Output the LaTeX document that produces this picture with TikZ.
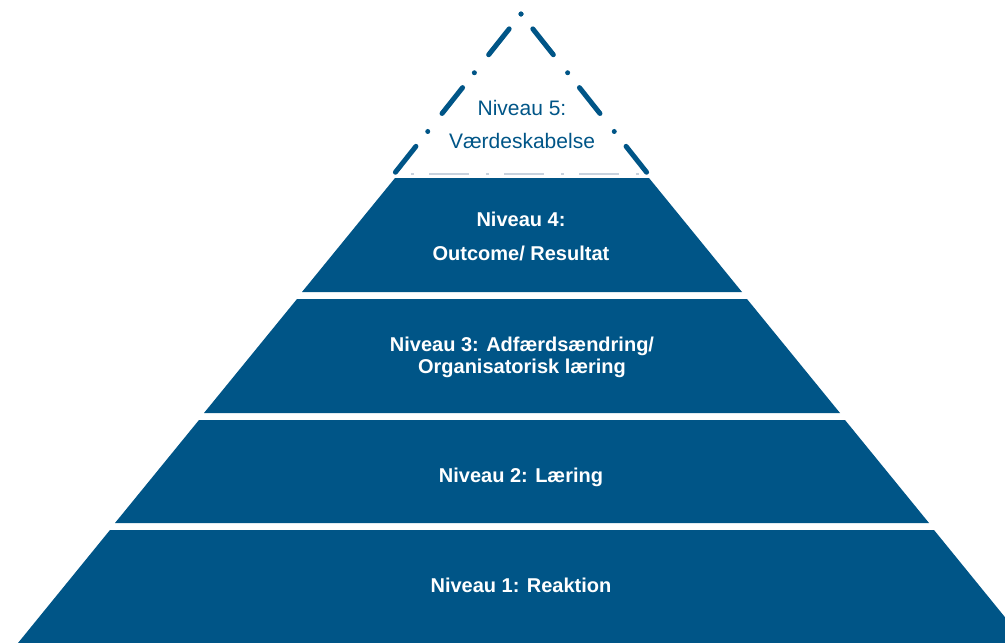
\documentclass[tikz,border=0pt]{standalone}
\usepackage{fontspec}
\setmainfont{Liberation Sans}
\definecolor{pyrblue}{RGB}{0,85,135}
\definecolor{pyrgrey}{RGB}{200,210,222}

\begin{document}
\begin{tikzpicture}[x=1pt, y=-1pt,
  tier/.style={fill=pyrblue},
  tierlabel/.style={text=white, font=\fontsize{20}{22}\selectfont\bfseries, align=center, inner sep=0pt},
  topedge/.style={draw=pyrblue, line width=5pt, line cap=round, dash pattern=on 0pt off 19pt on 33pt off 23pt},
  topbase/.style={draw=pyrgrey, line width=2pt, dash pattern=on 3pt off 15pt on 40pt off 17pt, dash phase=58pt}]
  \useasboundingbox (0,0) rectangle (1005,643);
  \clip (0,0) rectangle (1005,643);

  % top level, open
  \coordinate (apex) at (521,14);
  \coordinate (t5l) at (394,174);
  \coordinate (t5r) at (648,174);
  \draw[topbase] (t5l) -- (t5r);
  \draw[topedge] (apex) -- (t5l);
  \draw[topedge] (apex) -- (t5r);

  % filled levels
  \fill[tier] (395,178) -- (649,178) -- (742,292) -- (302,292) -- cycle;
  \fill[tier] (297,299) -- (747,299) -- (840,413) -- (204,413) -- cycle;
  \fill[tier] (199,420) -- (845,420) -- (929,523) -- (115,523) -- cycle;
  \fill[tier] (110,530) -- (934,530) -- (1026,643) -- (18,643) -- cycle;

  \node[tierlabel, text=pyrblue, font=\fontsize{21}{33}\selectfont] (n5) at (522,124) {Niveau 5:\\Værdeskabelse};
  \node[tierlabel, font=\fontsize{20}{34}\selectfont\bfseries] (n4) at (521,236) {Niveau 4:\\Outcome/ Resultat};
  \node[tierlabel] (n3) at (522,357) {Niveau 3: Adfærdsændring/\\Organisatorisk læring};
  \node[tierlabel] (n2) at (521,477) {Niveau 2: Læring};
  \node[tierlabel] (n1) at (521,585) {Niveau 1: Reaktion};
\end{tikzpicture}
\end{document}
